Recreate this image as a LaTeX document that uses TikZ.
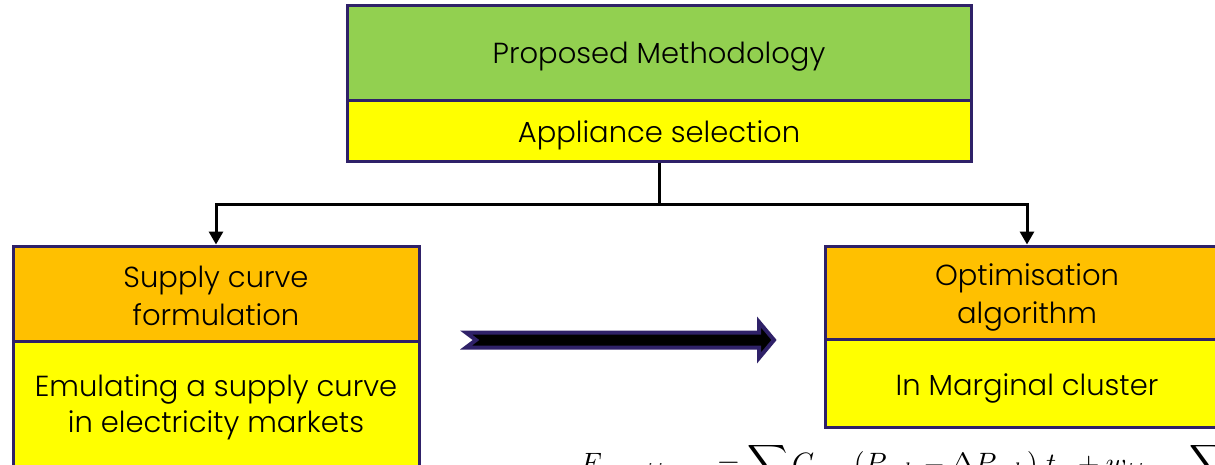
\documentclass[tikz,border=0pt]{standalone}
\usepackage{fontspec}
\usepackage{graphicx}
\setmainfont{Poppins}[UprightFont=* Light]
\usetikzlibrary{arrows.meta}
\definecolor{frame}{HTML}{2F2168}
\definecolor{leafgreen}{HTML}{92D050}
\definecolor{amber}{HTML}{FFC000}
\definecolor{lemon}{HTML}{FFFF00}
\tikzset{
  panel/.style={draw=frame, line width=3pt, rectangle, inner sep=0pt},
  caption/.style={inner sep=0pt, align=center, text=black,
    font=\fontsize{29}{38}\selectfont},
  link/.style={draw=black, line width=3pt},
  linkarrow/.style={link, -{Triangle[length=13pt,width=14pt]}},
  blockarrow/.style={draw=frame, fill=black, line width=4pt, line join=miter}
}
\begin{document}
\begin{tikzpicture}[x=1pt,y=-1pt]
  \useasboundingbox (0,0) rectangle (1215,464);
  \begin{scope}
  \clip (0,0) rectangle (1215,464);

  % top panel: heading and its subtitle
  \node[panel, fill=leafgreen, minimum width=624pt, minimum height=95pt]
    (method) at (659,52.5) {};
  \node[panel, fill=lemon, minimum width=624pt, minimum height=61pt]
    (select) at (659,130.5) {};
  \node[caption] (methodtext) at ([yshift=-4pt]method.center) {Proposed Methodology};
  \node[caption] (selecttext) at ([yshift=-5pt]select.center) {Appliance selection};

  % left panel
  \node[panel, fill=amber, minimum width=406pt, minimum height=95pt]
    (supply) at (216,293.5) {};
  \node[panel, fill=lemon, minimum width=406pt, minimum height=130pt]
    (emulate) at (216,406) {};
  \node[caption] (supplytext) at (216,296) {Supply curve\\formulation};
  \node[caption, font=\fontsize{29}{36}\selectfont] (emulatetext) at (216,407)
    {Emulating a supply curve\\in electricity markets};

  % right panel
  \node[panel, fill=amber, minimum width=404pt, minimum height=93pt]
    (optim) at (1027,292.5) {};
  \node[panel, fill=lemon, minimum width=404pt, minimum height=88pt]
    (cluster) at (1027,383) {};
  \node[caption] (optimtext) at (1027,297) {Optimisation\\algorithm};
  \node[caption] (clustertext) at ([yshift=-5pt]cluster.center) {In Marginal cluster};

  % tree connector from the top panel to both branches
  \draw[link] (select.south) -- ++(0,42) coordinate (fork);
  \draw[linkarrow] (fork) -| (supply.north);
  \draw[linkarrow] (fork) -| (optim.north);

  % block arrow between the branches
  \draw[blockarrow] (466,332.5) -- (759,332.5) -- (759,322) -- (774,340)
    -- (759,358) -- (759,347.5) -- (466,347.5) -- (476,340) -- cycle;

  % objective function below the right panel
  \node[anchor=base west, inner sep=0pt]
    (objective) at (580,472)
    {\scalebox{2.8}{$\displaystyle F_{\mathrm{mar},ij}\hspace{16pt} = \sum C_{m,n}(P_{n,k} - \Delta P_{n,k})\hspace{3pt} t_{n} + w_{ij}\hspace{14pt}\sum$}};
  \end{scope}
\end{tikzpicture}
\end{document}
